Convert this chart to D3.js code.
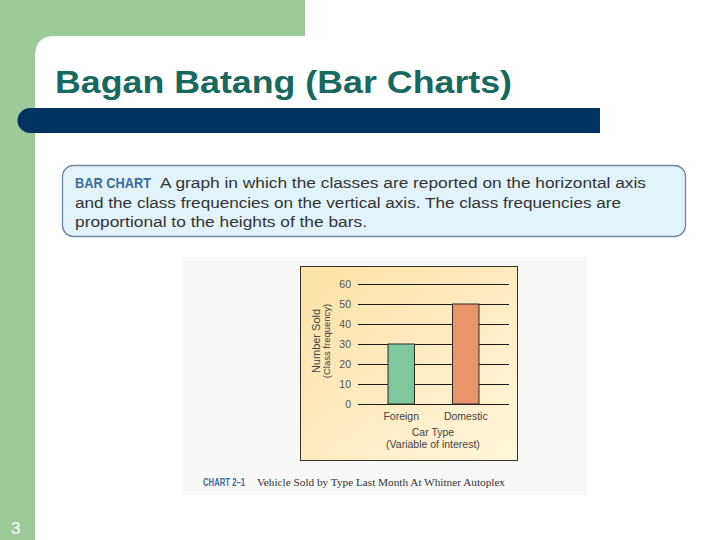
<!DOCTYPE html>
<html>
<head>
<meta charset="utf-8">
<script src="https://cdn.jsdelivr.net/npm/d3@7"></script>
<style>
  html, body { margin: 0; padding: 0; background: #fff; }
  svg { display: block; }
</style>
</head>
<body>
<svg id="chart" width="720" height="540"></svg>
<script>
// ---- data ----
const categories = ["Foreign", "Domestic"];
const values = [30, 50];
const barColors = ["#7fc79c", "#e9956a"];
const yTicks = [0, 10, 20, 30, 40, 50, 60];
const titleText = "Bagan Batang (Bar Charts)";
const defLines = [
  "A graph in which the classes are reported on the horizontal axis",
  "and the class frequencies on the vertical axis. The class frequencies are",
  "proportional to the heights of the bars."
];
const xTitle = ["Car Type", "(Variable of interest)"];
const yTitle = ["Number Sold", "(Class frequency)"];
const captionLabel = "CHART 2\u20131";
const captionText = "Vehicle Sold by Type Last Month At Whitner Autoplex";
const pageNum = "3";

const svg = d3.select("#chart");
const defs = svg.append("defs");

// ---- slide background ----
const green = "#9ccb99";
svg.append("rect").attr("x", 0).attr("y", 0).attr("width", 720).attr("height", 540).attr("fill", "#fff");
svg.append("rect").attr("x", 0).attr("y", 0).attr("width", 305).attr("height", 36).attr("fill", green);
svg.append("rect").attr("x", 0).attr("y", 0).attr("width", 35).attr("height", 540).attr("fill", green);
svg.append("path").attr("d", "M35,36 L55,36 Q35,36 35,56 Z").attr("fill", green);

// title
svg.append("text").attr("x", 55).attr("y", 93)
  .attr("font-family", "Liberation Sans, Arial, sans-serif")
  .attr("font-weight", "bold").attr("font-size", 32)
  .attr("fill", "#17685d")
  .attr("textLength", 457).attr("lengthAdjust", "spacingAndGlyphs")
  .text(titleText);

// dark blue bar
svg.append("path")
  .attr("d", "M30,108 L600,108 L600,133 L30,133 A12.5,12.5 0 0 1 30,108 Z")
  .attr("fill", "#013361");

// page number
svg.append("text").attr("x", 11).attr("y", 534)
  .attr("font-family", "Liberation Sans, Arial, sans-serif")
  .attr("font-size", 17).attr("fill", "#fff").text(pageNum);

// ---- definition box ----
svg.append("rect").attr("x", 62.5).attr("y", 165.5).attr("width", 623).attr("height", 71)
  .attr("rx", 11).attr("fill", "#e2f3fb").attr("stroke", "#6f86a0").attr("stroke-width", 1.3);
const defFont = "Liberation Sans, Arial, sans-serif";
svg.append("text").attr("x", 75).attr("y", 188)
  .attr("font-family", "Liberation Sans Narrow, Arial Narrow, Liberation Sans, sans-serif")
  .attr("font-weight", "bold").attr("font-size", 15.5).attr("fill", "#3b6c9c")
  .attr("textLength", 76).attr("lengthAdjust", "spacingAndGlyphs")
  .text("BAR CHART");
const lineX = [160, 75, 75];
const lineW = [486, 546, 292];
const lineY = [188, 207.5, 227];
defLines.forEach((t, i) => {
  svg.append("text").attr("x", lineX[i]).attr("y", lineY[i])
    .attr("font-family", defFont).attr("font-size", 15.5).attr("fill", "#333")
    .attr("textLength", lineW[i]).attr("lengthAdjust", "spacingAndGlyphs")
    .text(t);
});

// ---- chart image ----
svg.append("rect").attr("x", 183).attr("y", 257).attr("width", 404).attr("height", 238).attr("fill", "#f8f8f7");

const grad = defs.append("linearGradient").attr("id", "panelGrad")
  .attr("x1", "0").attr("y1", "0").attr("x2", "1").attr("y2", "1");
grad.append("stop").attr("offset", "0%").attr("stop-color", "#fbe1a4");
grad.append("stop").attr("offset", "100%").attr("stop-color", "#fff6dc");
svg.append("rect").attr("x", 300.5).attr("y", 266.5).attr("width", 217).attr("height", 194)
  .attr("fill", "url(#panelGrad)").attr("stroke", "#333").attr("stroke-width", 1);

const narrow = "Liberation Sans Narrow, Arial Narrow, Liberation Sans, sans-serif";
const gridLeft = 358, gridRight = 509;
const x = d3.scaleBand().domain(categories).range([gridLeft, gridRight])
  .paddingInner(0.59).paddingOuter(0.465);
const y = d3.scaleLinear().domain([0, 60]).range([404, 284]);

const yAxis = d3.axisLeft(y).tickValues(yTicks).tickSize(-(gridRight - gridLeft)).tickPadding(7);
const gy = svg.append("g").attr("transform", `translate(${gridLeft},0)`).call(yAxis);
gy.select(".domain").remove();
gy.selectAll(".tick line").attr("stroke", "#1e1a16").attr("stroke-width", 1.2);
gy.selectAll(".tick text").attr("font-family", narrow).attr("font-size", 10.5).attr("fill", "#555");

// bars
svg.append("g").selectAll("rect").data(categories).join("rect")
  .attr("x", d => x(d))
  .attr("y", (d, i) => y(values[i]))
  .attr("width", x.bandwidth())
  .attr("height", (d, i) => y(0) - y(values[i]))
  .attr("fill", (d, i) => barColors[i])
  .attr("stroke", "#2a2a2a").attr("stroke-width", 1);

// category labels
const xAxis = d3.axisBottom(x).tickSize(0).tickPadding(9);
const gx = svg.append("g").attr("transform", `translate(0,${y(0)})`).call(xAxis);
gx.select(".domain").remove();
gx.selectAll(".tick text").attr("font-family", narrow).attr("font-size", 10.5).attr("fill", "#444");

// axis titles
xTitle.forEach((t, i) => {
  svg.append("text").attr("x", 433).attr("y", 436 + i * 11.5)
    .attr("text-anchor", "middle").attr("font-family", narrow).attr("font-size", 10.5).attr("fill", "#444")
    .text(t);
});
yTitle.forEach((t, i) => {
  svg.append("text")
    .attr("transform", `translate(${320 + i * 10},341) rotate(-90)`)
    .attr("text-anchor", "middle").attr("font-family", narrow)
    .attr("font-size", i === 0 ? 11 : 9.5).attr("fill", "#444")
    .text(t);
});

// caption
svg.append("text").attr("x", 203).attr("y", 486)
  .attr("font-family", narrow).attr("font-weight", "bold").attr("font-size", 11).attr("fill", "#3b6c9c")
  .attr("textLength", 42).attr("lengthAdjust", "spacingAndGlyphs")
  .text(captionLabel);
svg.append("text").attr("x", 257).attr("y", 486)
  .attr("font-family", "Liberation Serif, Times New Roman, serif").attr("font-size", 11).attr("fill", "#333")
  .attr("textLength", 248).attr("lengthAdjust", "spacingAndGlyphs")
  .text(captionText);
</script>
</body>
</html>
